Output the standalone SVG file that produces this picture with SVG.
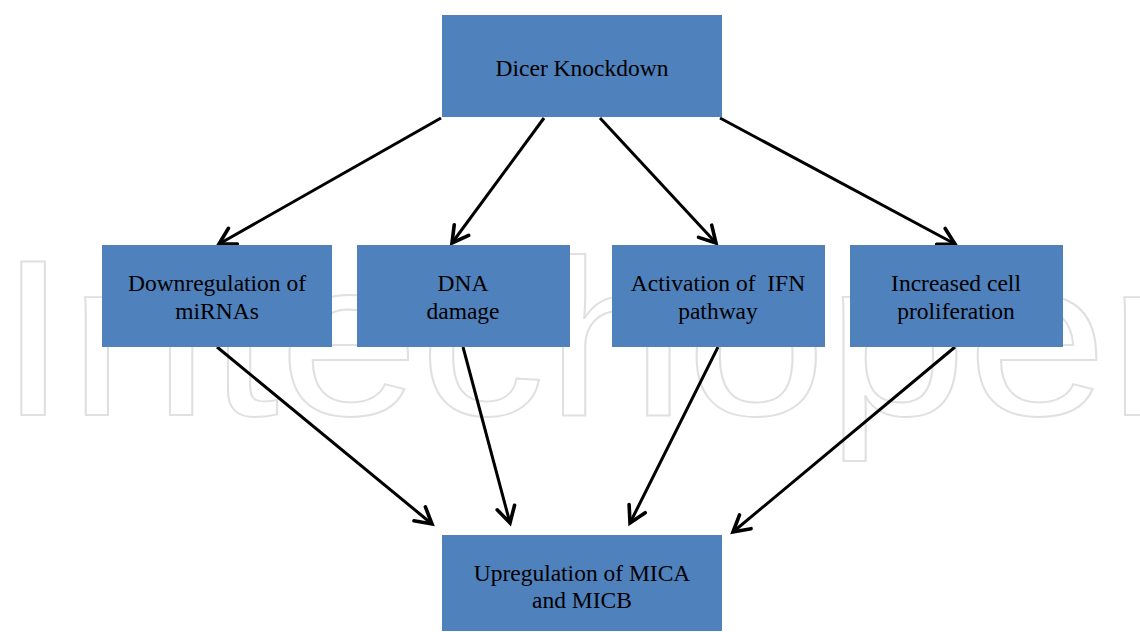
<svg xmlns="http://www.w3.org/2000/svg" width="1140" height="632" viewBox="0 0 1140 632">
  <style>
    .box { fill: #4F81BD; }
    .lbl { font-family: "Liberation Serif", "Times New Roman", serif; font-size: 23.5px; fill: #000; text-anchor: middle; }
    .edge { stroke: #000; stroke-width: 3; fill: none; marker-end: url(#arr); }
    .wm { font-family: "Liberation Sans", Arial, sans-serif; font-size: 222px; fill: none; stroke: #e0e0e0; stroke-width: 1.8; }
  </style>
  <defs>
    <marker id="arr" markerUnits="userSpaceOnUse" markerWidth="40" markerHeight="40" refX="0" refY="0" viewBox="-25 -20 40 40" orient="auto">
      <path d="M-16,-9 L0,0 L-16,9" fill="none" stroke="#000" stroke-width="3.6" stroke-linecap="round" stroke-linejoin="miter"/>
    </marker>
  </defs>
  <rect width="1140" height="632" fill="#fff"/>
  <text class="wm" x="-2" y="415" textLength="1250" lengthAdjust="spacingAndGlyphs">Intechopen</text>

  <g id="connectors">
    <line class="edge" x1="441" y1="118" x2="219" y2="244"/>
    <line class="edge" x1="544" y1="118" x2="452" y2="243"/>
    <line class="edge" x1="600" y1="118" x2="716" y2="243"/>
    <line class="edge" x1="720" y1="118" x2="955" y2="244"/>
    <line class="edge" x1="217" y1="347" x2="432" y2="524"/>
    <line class="edge" x1="463" y1="347" x2="510" y2="523"/>
    <line class="edge" x1="718" y1="347" x2="630" y2="523"/>
    <line class="edge" x1="955" y1="347" x2="733" y2="532"/>
  </g>

  <g id="dicer">
    <rect class="box" x="442" y="15" width="280" height="102"/>
    <text class="lbl" x="582" y="76">Dicer Knockdown</text>
  </g>
  <g id="mirna">
    <rect class="box" x="102" y="245" width="230" height="102"/>
    <text class="lbl" x="217" y="291">Downregulation of</text>
    <text class="lbl" x="217" y="319">miRNAs</text>
  </g>
  <g id="dna">
    <rect class="box" x="357" y="245" width="213" height="102"/>
    <text class="lbl" x="463" y="291">DNA</text>
    <text class="lbl" x="463" y="319">damage</text>
  </g>
  <g id="ifn">
    <rect class="box" x="612" y="245" width="213" height="102"/>
    <text class="lbl" x="718" y="291" xml:space="preserve">Activation of  IFN</text>
    <text class="lbl" x="718" y="319">pathway</text>
  </g>
  <g id="prolif">
    <rect class="box" x="850" y="245" width="213" height="102"/>
    <text class="lbl" x="956" y="291">Increased cell</text>
    <text class="lbl" x="956" y="319">proliferation</text>
  </g>
  <g id="mica">
    <rect class="box" x="442" y="535" width="280" height="96"/>
    <text class="lbl" x="582" y="581">Upregulation of MICA</text>
    <text class="lbl" x="582" y="608">and MICB</text>
  </g>
</svg>
